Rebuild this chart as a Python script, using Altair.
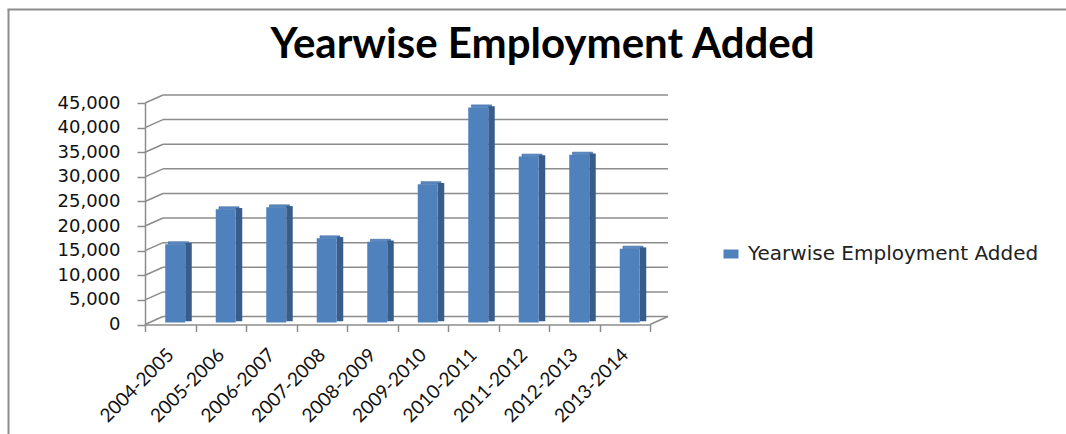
import altair as alt
import pandas as pd

# ---- data ----
years = ["2004-2005", "2005-2006", "2006-2007", "2007-2008", "2008-2009",
         "2009-2010", "2010-2011", "2011-2012", "2012-2013", "2013-2014"]
employment = [15900, 23000, 23400, 17100, 16400, 28100, 43700, 33700, 34100, 15000]
grid_values = [0, 5000, 10000, 15000, 20000, 25000, 30000, 35000, 40000, 45000]
series_name = "Yearwise Employment Added"

bars = pd.DataFrame({"Year": years, "Employment": employment, "Series": [series_name] * len(years)})
grid = pd.DataFrame({"Employment": grid_values})
one = pd.DataFrame({"k": [0]})

# ---- layout / style ----
W, H = 505, 221.5
DX, DY = 18, -8          # depth of the 3-D walls (px)
BX, BY = 5, -2           # bar offset into depth (px)
SD, SDY = 6.5, -2.5      # bar side depth (px)
BAR_W = 20
GRID = "#8c8c8c"
FRONT = "#4f81bd"
SIDE = "#385d8a"
TOP = "#5b8cc8"

yscale = alt.Scale(domain=[0, 45000], nice=False, zero=True)
yaxis = alt.Axis(values=grid_values, format=",d", title=None, grid=False,
                 labelFont="DejaVu Sans", labelFontSize=18, labelColor="#111111",
                 tickSize=8, tickColor=GRID, tickWidth=1.5,
                 domainColor=GRID, domainWidth=1.5, labelPadding=17)
xscale = alt.Scale(paddingInner=0, paddingOuter=0)
xaxis = alt.Axis(title=None, labelAngle=-45, labelAlign="right", labelBaseline="middle",
                 labelFont="Lato", labelFontSize=19, labelColor="#111111",
                 tickBand="extent", tickSize=7, tickColor=GRID, tickWidth=1.5,
                 domainColor=GRID, domainWidth=1.5, labelPadding=20, grid=False)


def Y(field="Employment"):
    return alt.Y(f"{field}:Q", scale=yscale, axis=yaxis)


def X():
    return alt.X("Year:N", sort=years, scale=xscale, axis=xaxis)


back_grid = alt.Chart(grid).mark_rule(
    color=GRID, strokeWidth=1.5, xOffset=DX, x2Offset=DX, yOffset=DY
).encode(y=Y(), x=alt.value(0), x2=alt.value(W))

side_wall = alt.Chart(grid).mark_rule(
    color=GRID, strokeWidth=1.5, y2Offset=DY
).encode(y=Y(), y2="Employment:Q", x=alt.value(0), x2=alt.value(DX))

floor_edge = alt.Chart(one).mark_rule(color=GRID, strokeWidth=1.5).encode(
    x=alt.value(W), x2=alt.value(W + DX), y=alt.value(H), y2=alt.value(H + DY))

top_face = alt.Chart(bars).mark_bar(
    width=BAR_W, color=TOP, stroke="#3a5f8f", strokeWidth=0.6,
    xOffset=BX + SD / 2, yOffset=BY + SDY, y2Offset=BY
).encode(x=X(), y=Y(), y2=alt.Y2("Employment:Q"))

side_face = alt.Chart(bars).mark_bar(
    width=SD, color=SIDE,
    xOffset=BX + BAR_W / 2 + SD / 2, yOffset=BY + SDY / 2, y2Offset=BY + SDY / 2
).encode(x=X(), y=Y())

front_face = alt.Chart(bars).mark_bar(
    width=BAR_W, xOffset=BX, yOffset=BY, y2Offset=BY
).encode(
    x=X(), y=Y(),
    color=alt.Color("Series:N", scale=alt.Scale(range=[FRONT]),
                    legend=alt.Legend(title=None, orient="none", legendX=576, legendY=141,
                                      symbolType="M-1,-0.6H1V0.6H-1Z", symbolSize=225,
                                      symbolStrokeWidth=0, symbolOpacity=1,
                                      labelFont="DejaVu Sans", labelFontSize=20,
                                      labelLimit=500,
                                      labelColor="#222222", labelOffset=7))
)

frame_left = alt.Chart(one).mark_rule(color="#8c8c8c", strokeWidth=2).encode(
    x=alt.value(-136.5), y=alt.value(-93.5), y2=alt.value(H + 120))
frame_top = alt.Chart(one).mark_rule(color="#8c8c8c", strokeWidth=2).encode(
    x=alt.value(-137.5), x2=alt.value(W + 420), y=alt.value(-93.5))

chart = alt.layer(
    frame_left, frame_top, back_grid, side_wall, floor_edge, top_face, side_face, front_face
).properties(
    width=W, height=H,
    background="white",
    title=alt.TitleParams(series_name, font="Lato", fontSize=42, fontWeight="bold",
                          color="#000000", anchor="middle", dx=145, dy=88, offset=30),
    autosize=alt.AutoSizeParams(type="none"),
    padding={"left": 145, "top": 103, "right": 416, "bottom": 109.5},
).configure_view(stroke="transparent", strokeWidth=0)

chart.save("out.html", embed_options={"renderer": "svg", "actions": False})
